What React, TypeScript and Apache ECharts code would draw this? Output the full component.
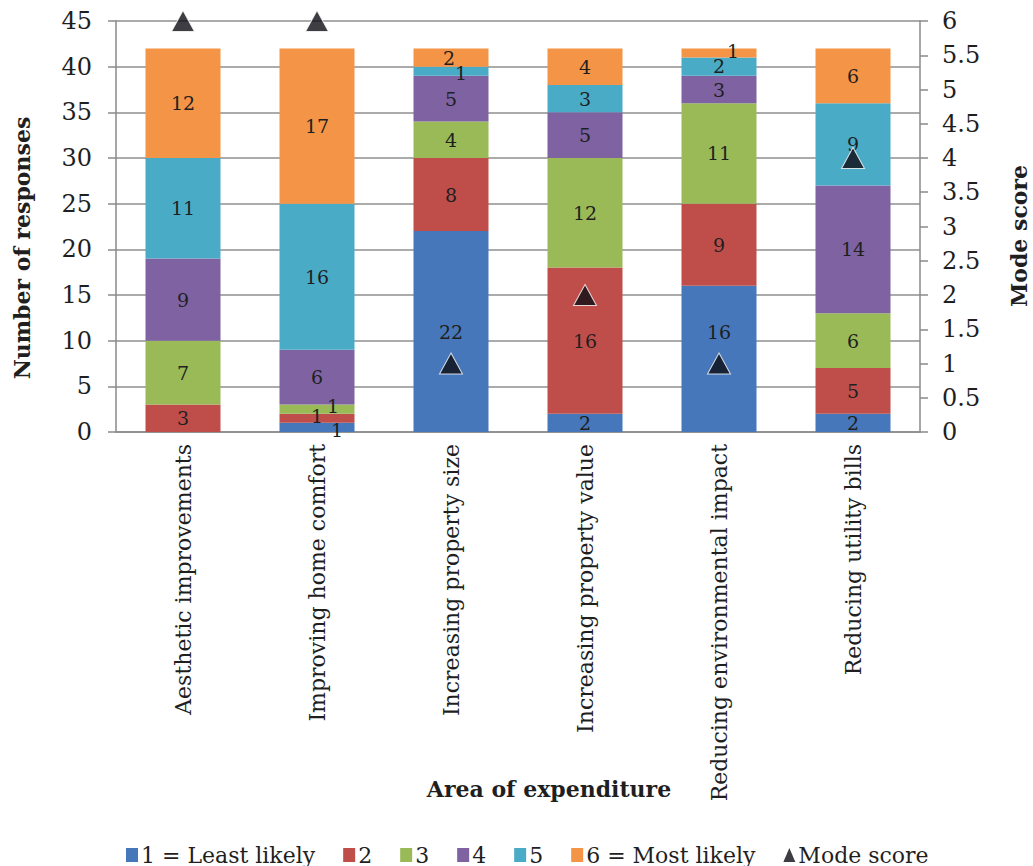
import React, { useEffect, useRef } from "react";
import * as echarts from "echarts";

// Areas of expenditure (x-axis categories)
const categories = [
  "Aesthetic improvements",
  "Improving home comfort",
  "Increasing property size",
  "Increasing property value",
  "Reducing environmental impact",
  "Reducing utility bills",
];

// Number of responses per likelihood score, one array per score
const score1 = [0, 1, 22, 2, 16, 2];
const score2 = [3, 1, 8, 16, 9, 5];
const score3 = [7, 1, 4, 12, 11, 6];
const score4 = [9, 6, 5, 5, 3, 14];
const score5 = [11, 16, 1, 3, 2, 9];
const score6 = [12, 17, 2, 4, 1, 6];

// Mode score per area (right axis)
const modeScore = [6, 6, 1, 2, 1, 4];

const seriesNames = ["1 = Least likely", "2", "3", "4", "5", "6 = Most likely"];
const leftTicks = { min: 0, max: 45, interval: 5 };
const rightTicks = { min: 0, max: 6, interval: 0.5 };

const colors = ["#4677BA", "#BF4E4B", "#99BA57", "#7E62A1", "#4AABC6", "#F49446"];
const FONT = "'DejaVu Serif', 'Liberation Serif', serif";
const TEXT = "#1f1f1f";
const AXIS = "#8a8a8a";

// Nudges for labels that would collide with thin segments or markers: "series-category" -> [dx, dy]
const labelNudge: Record<string, [number, number]> = {
  "0-1": [20, 3],
  "1-1": [0, -2],
  "2-1": [16, -3],
  "4-2": [10, 2],
  "5-2": [-2, 0],
  "0-4": [0, -27],
  "4-4": [0, -1],
  "5-4": [14, -2],
};

export default function App() {
  const ref = useRef<HTMLDivElement>(null);

  useEffect(() => {
    if (!ref.current) return;
    const chart = echarts.init(ref.current, undefined, { renderer: "svg" });
    const stacks = [score1, score2, score3, score4, score5, score6];

    const barSeries = stacks.map((vals, si) => ({
      name: seriesNames[si],
      type: "bar",
      stack: "total",
      yAxisIndex: 0,
      barWidth: 75,
      itemStyle: { color: colors[si] },
      data: vals.map((v, ci) => {
        const nudge = labelNudge[`${si}-${ci}`];
        return nudge ? { value: v, label: { offset: nudge } } : { value: v };
      }),
      label: {
        show: true,
        position: "inside",
        color: TEXT,
        fontFamily: FONT,
        fontSize: 19,
        lineHeight: 19,
        formatter: (p: any) => (p.value ? String(p.value) : ""),
      },
    }));

    chart.setOption({
      animation: false,
      backgroundColor: "#ffffff",
      textStyle: { fontFamily: FONT },
      grid: { left: 116, right: 113, top: 21, bottom: 434 },
      xAxis: {
        type: "category",
        data: categories,
        axisLine: { lineStyle: { color: AXIS, width: 1.5 } },
        axisTick: { show: false },
        axisLabel: {
          rotate: 90,
          margin: 12,
          color: TEXT,
          fontFamily: FONT,
          fontSize: 22,
          interval: 0,
        },
      },
      yAxis: [
        {
          type: "value",
          ...leftTicks,
          axisLine: { show: true, lineStyle: { color: AXIS, width: 1.5 } },
          axisTick: { show: true, length: 8, lineStyle: { color: AXIS, width: 1.5 } },
          splitLine: { show: true, lineStyle: { color: "#8f8f8f", width: 1.5 } },
          axisLabel: { margin: 24, color: TEXT, fontFamily: FONT, fontSize: 24 },
        },
        {
          type: "value",
          position: "right",
          ...rightTicks,
          axisLine: { show: true, lineStyle: { color: AXIS, width: 1.5 } },
          axisTick: { show: true, length: 8, lineStyle: { color: AXIS, width: 1.5 } },
          splitLine: { show: false },
          axisLabel: { margin: 22, color: TEXT, fontFamily: FONT, fontSize: 24 },
        },
      ],
      legend: {
        left: 121,
        top: 839,
        itemGap: 28,
        itemWidth: 12,
        itemHeight: 14,
        textStyle: { color: TEXT, fontFamily: FONT, fontSize: 22, padding: [0, 0, 0, -2] },
        data: [
          ...seriesNames.map((n) => ({ name: n, icon: "rect" })),
          { name: "Mode score", icon: "triangle", itemStyle: { color: "#0d0d14", borderWidth: 0 } },
        ],
      },
      graphic: [
        {
          type: "text",
          x: 22,
          y: 248,
          rotation: Math.PI / 2,
          style: {
            text: "Number of responses",
            font: `bold 22px ${FONT}`,
            fill: TEXT,
            align: "center",
            verticalAlign: "middle",
          },
        },
        {
          type: "text",
          x: 1019,
          y: 236,
          rotation: Math.PI / 2,
          style: {
            text: "Mode score",
            font: `bold 22px ${FONT}`,
            fill: TEXT,
            align: "center",
            verticalAlign: "middle",
          },
        },
        {
          type: "text",
          x: 549,
          y: 789,
          style: {
            text: "Area of expenditure",
            font: `bold 22px ${FONT}`,
            fill: TEXT,
            align: "center",
            verticalAlign: "middle",
          },
        },
      ],
      series: [
        ...barSeries,
        {
          name: "Mode score",
          type: "scatter",
          yAxisIndex: 1,
          symbol: "triangle",
          symbolSize: [23, 21],
          itemStyle: { color: "#0d0d14", borderColor: "#ffffff", borderWidth: 1 },
          data: modeScore,
          z: 5,
        },
      ],
    });

    return () => chart.dispose();
  }, []);

  return (
    <div
      ref={ref}
      style={{ position: "fixed", left: 0, top: 0, width: 1033, height: 866 }}
    />
  );
}
